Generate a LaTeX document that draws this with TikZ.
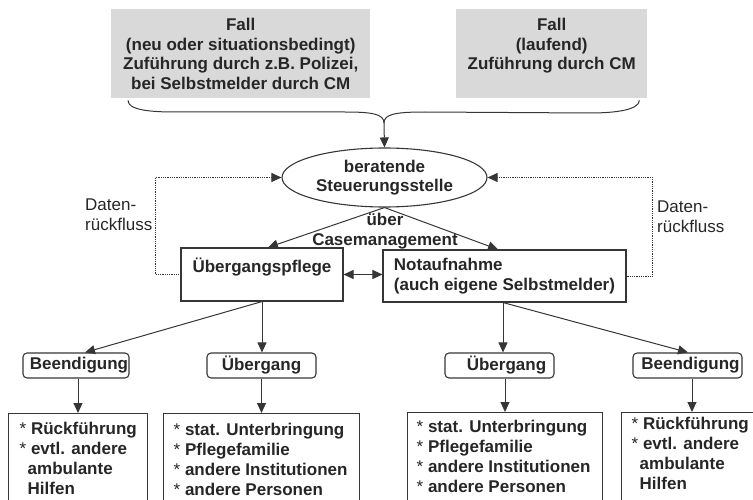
\documentclass[tikz,border=0pt]{standalone}
\usepackage{fontspec}
\setmainfont{Liberation Sans}
\usetikzlibrary{arrows.meta,shapes.geometric,calc}
\definecolor{ink}{HTML}{262626}
\definecolor{edge}{HTML}{363636}
\definecolor{fallgray}{HTML}{D9D9D9}
\definecolor{dotgray}{HTML}{5A5A5A}
% list bullet: thin asterisk followed by a space
\newcommand\listmark{{\mdseries*}\ }

\begin{document}
\begin{tikzpicture}[x=1pt,y=-1pt,
  every node/.style={text=ink, font=\fontsize{17}{19.5}\selectfont\bfseries},
  tip/.style={-{Triangle[length=10pt,width=9pt]}},
  line/.style={draw=edge, line width=1pt},
  arr/.style={line, tip},
  arrboth/.style={line, {Triangle[length=10pt,width=9pt]}-{Triangle[length=10pt,width=9pt]}},
  fb/.style={draw=dotgray, line width=0.9pt, dash pattern=on 0.9pt off 0.9pt,
             -{Triangle[length=10pt,width=9pt]}, color=edge},
  fallbox/.style={fill=fallgray, align=center, anchor=north west, inner sep=0pt,
                  minimum height=89},
  stepbox/.style={draw=edge, line width=1.1pt, align=left, inner sep=0pt},
  tagbox/.style={draw=edge, line width=1.1pt, rounded corners=4pt, inner sep=0pt,
                 minimum height=25},
  listbox/.style={draw=edge, line width=1.1pt, anchor=north west, inner sep=0pt,
                  minimum height=100},
  listtext/.style={align=left, anchor=north west, inner sep=0pt,
                   font=\fontsize{17}{20}\selectfont\bfseries},
  feedtext/.style={align=left, anchor=north west, inner sep=0pt,
                   font=\fontsize{17}{20}\selectfont\mdseries}
]
\useasboundingbox (0,0) rectangle (753,500);
\clip (0,0) rectangle (753,500);

% incoming cases
\node[fallbox, minimum width=259] (fallA) at (111,9)
  {Fall\\(neu oder situationsbedingt)\\Zuführung durch z.B. Polizei,\\bei Selbstmelder durch CM};
\node[fallbox, minimum width=191] (fallB) at (456,9)
  {Fall\\(laufend)\\Zuführung durch CM\\\mbox{}};

% central steering unit
\node[ellipse, draw=edge, line width=1.1pt, minimum width=205, minimum height=59,
      inner sep=0pt, align=center] (stelle) at (384.5,177.5)
  {beratende\\Steuerungsstelle};

\node[align=center, inner sep=0pt] (cm) at (385,231) {über\\Casemanagement};

% placements
\node[stepbox, minimum width=162, minimum height=53] (upflege) at (262,274.5)
  {Übergangspflege\\\mbox{}};
\node[stepbox, minimum width=243, minimum height=52] (notauf) at (504.5,276)
  {Notaufnahme\\(auch eigene Selbstmelder)};

% outcomes
\node[tagbox, minimum width=106] (endL) at (76,365.5) {\hspace*{6pt}Beendigung};
\node[tagbox, minimum width=109] (uebL) at (261.5,365.5) {Übergang};
\node[tagbox, minimum width=109] (uebR) at (499.5,365.5) {\hspace*{14pt}Übergang};
\node[tagbox, minimum width=109] (endR) at (687.5,365.5) {\hspace*{6pt}Beendigung};

% detail lists
\node[listbox, minimum width=139] (l1) at (8,413) {};
\node[listbox, minimum width=196] (l2) at (163,413) {};
\node[listbox, minimum width=195] (l3) at (407,412) {};
\node[listbox, minimum width=140] (l4) at (621,412) {};

\node[listtext] (t1) at (19.5,421.5)
  {\listmark Rückführung\\\listmark evtl. andere\\\hspace*{8pt}ambulante\\\hspace*{8pt}Hilfen};
\node[listtext] (t2) at (173.5,422.5)
  {\listmark stat. Unterbringung\\\listmark Pflegefamilie\\\listmark andere Institutionen\\\listmark andere Personen};
\node[listtext] (t3) at (416.5,419.5)
  {\listmark stat. Unterbringung\\\listmark Pflegefamilie\\\listmark andere Institutionen\\\listmark andere Personen};
\node[listtext] (t4) at (631.5,416.5)
  {\listmark Rückführung\\\listmark evtl. andere\\\hspace*{8pt}ambulante\\\hspace*{8pt}Hilfen};

% data feedback labels
\node[feedtext] (dl) at (85,199) {Daten-\\rückfluss};
\node[feedtext] (dr) at (657,201) {Daten-\\rückfluss};

% merging brace from both cases
\coordinate (bA) at ($(fallA.south west)+(17,2)$);
\coordinate (bB) at ($(fallB.south east)+(-8,2)$);
\coordinate (bm) at (384,123);
\draw[line] (bA) .. controls (128,110) and (150,112) .. (175,112) -- (345,112)
  .. controls (372,112) and (384,114) .. (bm);
\draw[line] (bB) .. controls (639,110) and (615,113) .. (590,113) -- (425,112)
  .. controls (396,112) and (384,114) .. (bm);
\draw[arr] (bm) -- (stelle.north);

% steering to placements
\draw[arr] (stelle.south) -- ($(upflege.north)+(6,0)$);
\draw[arr] (stelle.south) -- ($(notauf.north)+(-6.5,0)$);
\draw[arrboth] (upflege.east) -- (upflege.east -| notauf.west);

% feedback loops
\draw[fb] (upflege.west) -- ++(-25,0) |- (stelle.west);
\draw[fb] (notauf.east) -- ++(26,0) |- (stelle.east);

% placements to outcomes
\draw[arr] (upflege.south) -- (upflege.south |- uebL.north);
\draw[arr] (upflege.south) -- ($(endL.north)+(9,0)$);
\coordinate (nb) at ($(notauf.south)+(-1.5,0)$);
\draw[arr] (nb) -- (nb |- uebR.north);
\draw[arr] (nb) -- ($(endR.north)+(0.5,0)$);

% outcomes to lists
\coordinate (a1) at ($(endL.south)+(2,0)$);
\coordinate (a2) at ($(uebL.south)+(0,0)$);
\coordinate (a3) at ($(uebR.south)+(5.5,0)$);
\coordinate (a4) at ($(endR.south)+(4.5,0)$);
\draw[arr] (a1) -- (a1 |- l1.north);
\draw[arr] (a2) -- (a2 |- l2.north);
\draw[arr] (a3) -- (a3 |- l3.north);
\draw[arr] (a4) -- (a4 |- l4.north);
\end{tikzpicture}
\end{document}
